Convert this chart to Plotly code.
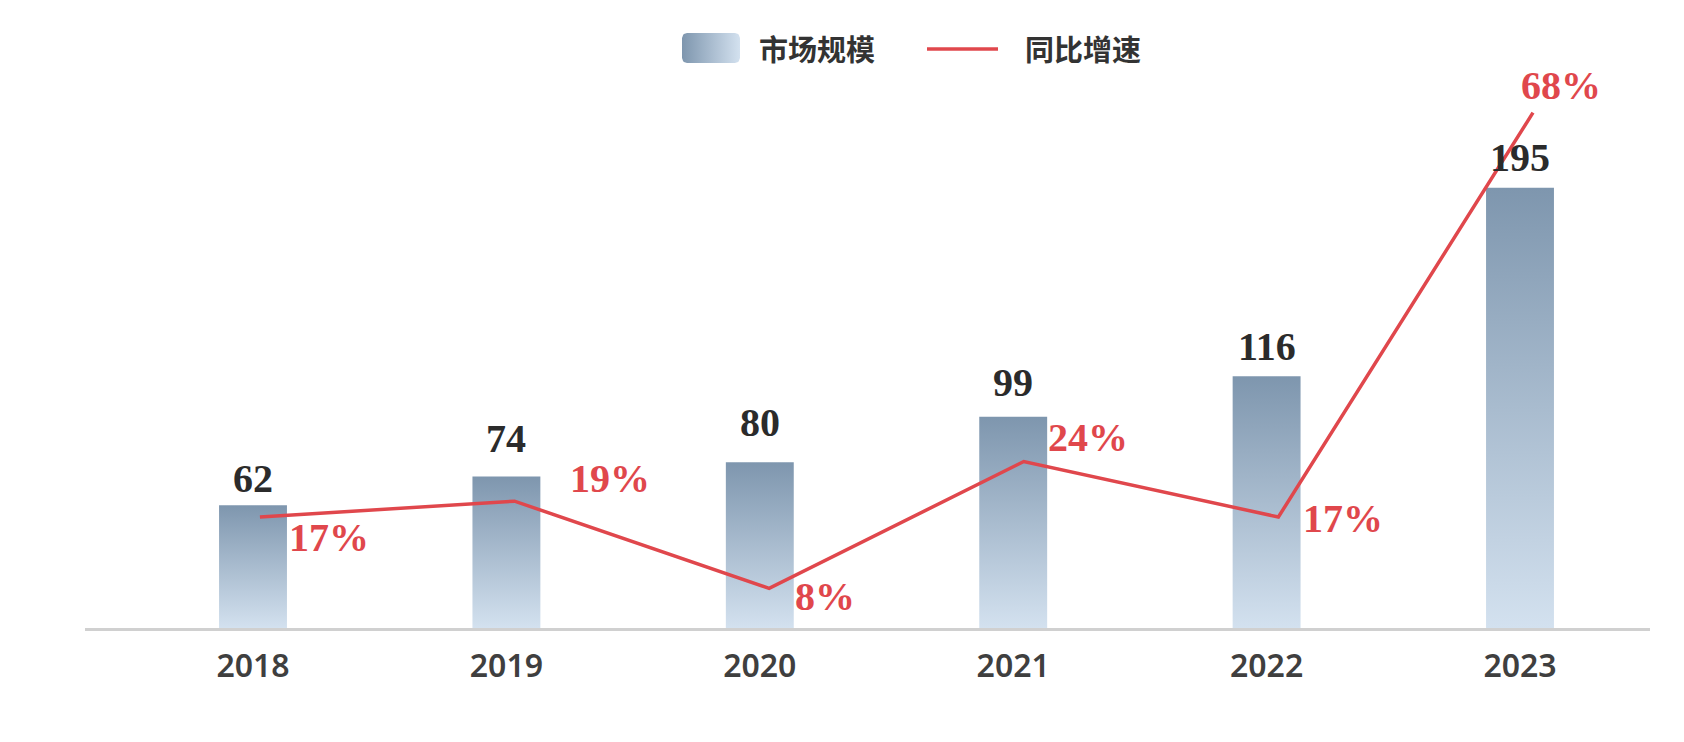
import numpy as np
import plotly.graph_objects as go

# ---------------- data ----------------
years = ["2018", "2019", "2020", "2021", "2022", "2023"]
market_size = [62, 74, 80, 99, 116, 195]
growth_pct = [17, 19, 8, 24, 17, 68]
legend_names = ["市场规模", "同比增速"]

# ---------------- styling / layout ----------------
W, H = 1684, 742
PLOT_L, PLOT_R, PLOT_T, PLOT_B = 85, 1650, 90, 628
BAR_W = 0.268
BAR_DARK = "#7E96AE"
BAR_LIGHT = "#D3E1EF"
RED = "#E0474C"
TEXT_DARK = "#2B2B2B"
SERIF = "Liberation Serif, Times New Roman, serif"
CJK = "Noto Sans CJK SC, sans-serif"

Y1_RANGE = [10.5, 236.0]
Y2_RANGE = [3.0, 70.86]
X1_RANGE = [-0.663, 5.513]
X2_RANGE = [-0.687, 5.4595]

# label offsets (pixels)
bar_label_yshift = [2, 14, 15, 10, 5, 6]
pct_offsets = [(27, -20), (53, 23), (24, -8), (22, 24), (23, -1), (-14, 27)]

fig = go.Figure()

xs = np.arange(len(years))

# bars as gradient-filled polygons
for i, v in enumerate(market_size):
    x0, x1 = xs[i] - BAR_W / 2, xs[i] + BAR_W / 2
    fig.add_trace(go.Scatter(
        x=[x0, x1, x1, x0, x0], y=[0, 0, v, v, 0],
        mode="lines", fill="toself", line=dict(width=0, color="rgba(0,0,0,0)"),
        fillgradient=dict(type="vertical",
                          colorscale=[[0, BAR_LIGHT], [1, BAR_DARK]],
                          start=Y1_RANGE[0], stop=v),
        xaxis="x", yaxis="y", showlegend=False, hoverinfo="skip",
    ))

# growth line
fig.add_trace(go.Scatter(
    x=xs, y=growth_pct, mode="lines",
    line=dict(color=RED, width=3.5),
    xaxis="x2", yaxis="y2", showlegend=False, cliponaxis=False,
))

annotations = []
for i, v in enumerate(market_size):
    annotations.append(dict(
        x=xs[i], y=v, xref="x", yref="y", text=f"<b>{v}</b>",
        showarrow=False, xanchor="center", yanchor="bottom", yshift=bar_label_yshift[i],
        font=dict(family=SERIF, size=40, color=TEXT_DARK),
    ))
for i, p in enumerate(growth_pct):
    dx, dy = pct_offsets[i]
    annotations.append(dict(
        x=xs[i], y=p, xref="x2", yref="y2", text=f"<b>{p}%</b>",
        showarrow=False, xanchor="left", yanchor="middle",
        xshift=dx, yshift=dy,
        font=dict(family=SERIF, size=40, color=RED),
    ))

# ---------------- manual legend (pixel-space overlay axes) ----------------
sw_x0, sw_x1, sw_y0, sw_y1, r = 682, 740, 33, 63, 5
def rounded_rect(x0, x1, y0, y1, r, n=8):
    px, py = [], []
    corners = [(x1 - r, y0 + r, -np.pi / 2, 0), (x1 - r, y1 - r, 0, np.pi / 2),
               (x0 + r, y1 - r, np.pi / 2, np.pi), (x0 + r, y0 + r, np.pi, 1.5 * np.pi)]
    for cx, cy, a0, a1 in corners:
        t = np.linspace(a0, a1, n)
        px += list(cx + r * np.cos(t))
        py += list(cy + r * np.sin(t))
    px.append(px[0]); py.append(py[0])
    return px, py

rx, ry = rounded_rect(sw_x0, sw_x1, sw_y0, sw_y1, r)
fig.add_trace(go.Scatter(
    x=rx, y=ry, mode="lines", fill="toself",
    line=dict(width=0, color="rgba(0,0,0,0)"),
    fillgradient=dict(type="horizontal", colorscale=[[0, BAR_DARK], [1, BAR_LIGHT]]),
    xaxis="x3", yaxis="y3", showlegend=False, hoverinfo="skip",
))
fig.add_trace(go.Scatter(
    x=[927, 998], y=[49, 49], mode="lines", line=dict(color=RED, width=3.5),
    xaxis="x3", yaxis="y3", showlegend=False, hoverinfo="skip",
))
annotations.append(dict(x=757, y=48, xref="x3", yref="y3", text=legend_names[0],
                        showarrow=False, xanchor="left", yanchor="middle",
                        font=dict(family=CJK, size=29, color="#333333", weight="bold")))
annotations.append(dict(x=1023, y=48, xref="x3", yref="y3", text=legend_names[1],
                        showarrow=False, xanchor="left", yanchor="middle",
                        font=dict(family=CJK, size=29, color="#333333", weight="bold")))

xdom = [PLOT_L / W, PLOT_R / W]
ydom = [(H - PLOT_B) / H, (H - PLOT_T) / H]

fig.update_layout(
    width=W, height=H,
    margin=dict(l=0, r=0, t=0, b=0, autoexpand=False),
    paper_bgcolor="white", plot_bgcolor="rgba(0,0,0,0)",
    showlegend=False,
    annotations=annotations,
    xaxis=dict(domain=xdom, range=X1_RANGE, tickvals=list(xs), ticktext=years,
               showgrid=False, zeroline=False, showline=True, linecolor="#D0D0D0",
               linewidth=3, ticks="", automargin=False, ticklabelstandoff=8,
               tickfont=dict(family="Noto Sans, sans-serif", size=32, color="#3F3F3F", weight=600)),
    yaxis=dict(domain=ydom, range=Y1_RANGE, visible=False, automargin=False),
    xaxis2=dict(overlaying="x", range=X2_RANGE, visible=False, automargin=False),
    yaxis2=dict(overlaying="y", range=Y2_RANGE, visible=False, automargin=False),
    xaxis3=dict(domain=[0, 1], range=[0, W], visible=False, anchor="y3", automargin=False),
    yaxis3=dict(domain=[0, 1], range=[H, 0], visible=False, anchor="x3", automargin=False),
)

fig.write_html("out.html")
